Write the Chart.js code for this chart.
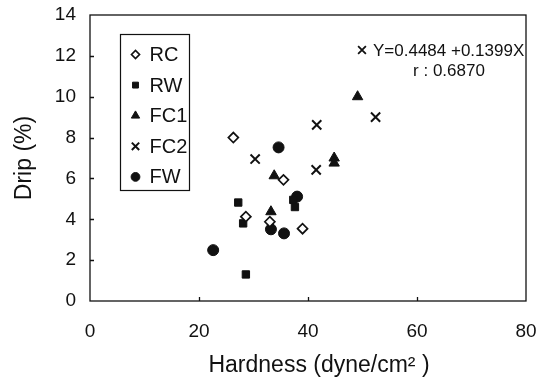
<!DOCTYPE html>
<html>
<head>
<meta charset="utf-8">
<script src="https://cdn.jsdelivr.net/npm/chart.js@4/dist/chart.umd.min.js"></script>
<style>
  html, body { margin: 0; padding: 0; background: #fff; }
  #wrap { width: 539px; height: 382px; }
</style>
</head>
<body>
<div id="wrap"><canvas id="c" width="539" height="382"></canvas></div>
<script>
// ---- data ----
const seriesNames = ['RC', 'RW', 'FC1', 'FC2', 'FW'];
const rcX  = [26.3, 35.5, 28.6, 33.0, 39.0];
const rcY  = [8.0, 5.93, 4.13, 3.88, 3.54];
const rwX  = [28.6, 27.2, 28.1, 37.3, 37.6];
const rwY  = [1.3, 4.82, 3.8, 4.95, 4.6];
const fc1X = [49.1, 44.8, 44.8, 33.8, 33.2];
const fc1Y = [10.0, 7.0, 6.75, 6.13, 4.37];
const fc2X = [41.6, 52.4, 30.3, 41.5];
const fc2Y = [8.62, 9.0, 6.95, 6.42];
const fwX  = [34.6, 38.0, 33.2, 35.6, 22.6];
const fwY  = [7.52, 5.11, 3.51, 3.31, 2.49];
const xTicks = [0, 20, 40, 60, 80];
const yTicks = [0, 2, 4, 6, 8, 10, 12, 14];
const regressionText = 'Y=0.4484 +0.1399X';
const rText = 'r : 0.6870';
const xTitle = 'Hardness (dyne/cm\u00B2 )';
const yTitle = 'Drip (%)';

const pts = (xs, ys) => xs.map((x, i) => ({ x: x, y: ys[i] }));
const INK = '#111';
const FONT = "'Liberation Sans', Arial, sans-serif";

const markerStyles = [
  { pointStyle: 'rectRot', radius: 5, backgroundColor: '#fff', borderColor: INK, borderWidth: 1.7 },
  { pointStyle: 'rect', radius: 5.2, backgroundColor: INK, borderColor: INK, borderWidth: 1 },
  { pointStyle: 'triangle', radius: 6, backgroundColor: INK, borderColor: INK, borderWidth: 1 },
  { pointStyle: 'crossRot', radius: 6.5, backgroundColor: INK, borderColor: INK, borderWidth: 2 },
  { pointStyle: 'circle', radius: 5.5, backgroundColor: INK, borderColor: INK, borderWidth: 1 }
];
const allData = [pts(rcX, rcY), pts(rwX, rwY), pts(fc1X, fc1Y), pts(fc2X, fc2Y), pts(fwX, fwY)];

const datasets = seriesNames.map((name, i) => ({
  label: name,
  data: allData[i],
  showLine: false,
  pointStyle: markerStyles[i].pointStyle,
  pointRadius: markerStyles[i].radius,
  pointHoverRadius: markerStyles[i].radius,
  pointBackgroundColor: markerStyles[i].backgroundColor,
  pointBorderColor: markerStyles[i].borderColor,
  pointBorderWidth: markerStyles[i].borderWidth
}));

// frame, inward ticks, in-plot legend, x title and regression note
const decor = {
  id: 'decor',
  afterDatasetsDraw(chart) {
    const ctx = chart.ctx;
    const a = chart.chartArea;
    const xs = chart.scales.x, ys = chart.scales.y;
    ctx.save();
    ctx.strokeStyle = INK;
    ctx.lineWidth = 1.3;
    ctx.strokeRect(a.left, a.top, a.right - a.left, a.bottom - a.top);
    // inward ticks
    ctx.beginPath();
    yTicks.slice(1, -1).forEach(v => {
      const y = Math.round(ys.getPixelForValue(v)) + 0.5;
      ctx.moveTo(a.left, y); ctx.lineTo(a.left + 4, y);
    });
    xTicks.slice(1, -1).forEach(v => {
      const x = Math.round(xs.getPixelForValue(v)) + 0.5;
      ctx.moveTo(x, a.bottom); ctx.lineTo(x, a.bottom - 4);
    });
    ctx.stroke();

    // legend box
    const lx = 120.5, ly = 34.5, lw = 69, lh = 156;
    ctx.lineWidth = 1.2;
    ctx.strokeRect(lx, ly, lw, lh);
    ctx.font = '20px ' + FONT;
    ctx.textBaseline = 'middle';
    ctx.textAlign = 'left';
    chart.data.datasets.forEach((ds, i) => {
      const cy = ly + 20 + i * 30.6;
      const m = markerStyles[i];
      ctx.fillStyle = m.backgroundColor;
      ctx.strokeStyle = m.borderColor;
      ctx.lineWidth = m.borderWidth;
      Chart.helpers.drawPoint(ctx, { pointStyle: m.pointStyle, radius: m.radius * 0.8, borderWidth: m.borderWidth, rotation: 0 }, lx + 15, cy);
      ctx.fillStyle = INK;
      ctx.fillText(ds.label, lx + 29, cy + 1);
    });

    // regression annotation
    const ax = 362, ay = 50;
    ctx.fillStyle = INK; ctx.strokeStyle = INK; ctx.lineWidth = 1.8;
    Chart.helpers.drawPoint(ctx, { pointStyle: 'crossRot', radius: 5.5, borderWidth: 1.8, rotation: 0 }, ax, ay);
    ctx.font = '17px ' + FONT;
    ctx.fillText(regressionText, ax + 11, ay + 1);
    ctx.textAlign = 'center';
    ctx.fillText(rText, 449, ay + 21);

    // x axis title (slightly right of centre, as in the reference)
    ctx.font = '23px ' + FONT;
    ctx.fillText(xTitle, 319, 366);
    ctx.restore();
  }
};

new Chart(document.getElementById('c'), {
  type: 'scatter',
  data: { datasets: datasets },
  options: {
    responsive: false,
    animation: false,
    devicePixelRatio: 1,
    layout: { padding: { left: 0, top: 15, right: 13, bottom: 0 } },
    plugins: { legend: { display: false }, tooltip: { enabled: false } },
    scales: {
      x: {
        type: 'linear', min: 0, max: 80,
        afterBuildTicks: s => { s.ticks = xTicks.map(v => ({ value: v })); },
        afterFit: s => { s.height = 81; s.paddingLeft = 0; s.paddingRight = 0; },
        grid: { display: false, drawTicks: false },
        border: { display: false },
        ticks: { color: INK, font: { size: 19, family: FONT }, padding: 19, maxRotation: 0 },
        title: { display: false }
      },
      y: {
        type: 'linear', min: 0, max: 14,
        afterBuildTicks: s => { s.ticks = yTicks.map(v => ({ value: v })); },
        afterFit: s => { s.width = 90; s.paddingTop = 0; s.paddingBottom = 0; },
        grid: { display: false, drawTicks: false },
        border: { display: false },
        ticks: { color: INK, font: { size: 19, family: FONT }, padding: 14 },
        title: { display: true, text: yTitle, color: INK, font: { size: 23, family: FONT }, padding: { top: 11, bottom: 0 } }
      }
    }
  },
  plugins: [decor]
});
</script>
</body>
</html>
